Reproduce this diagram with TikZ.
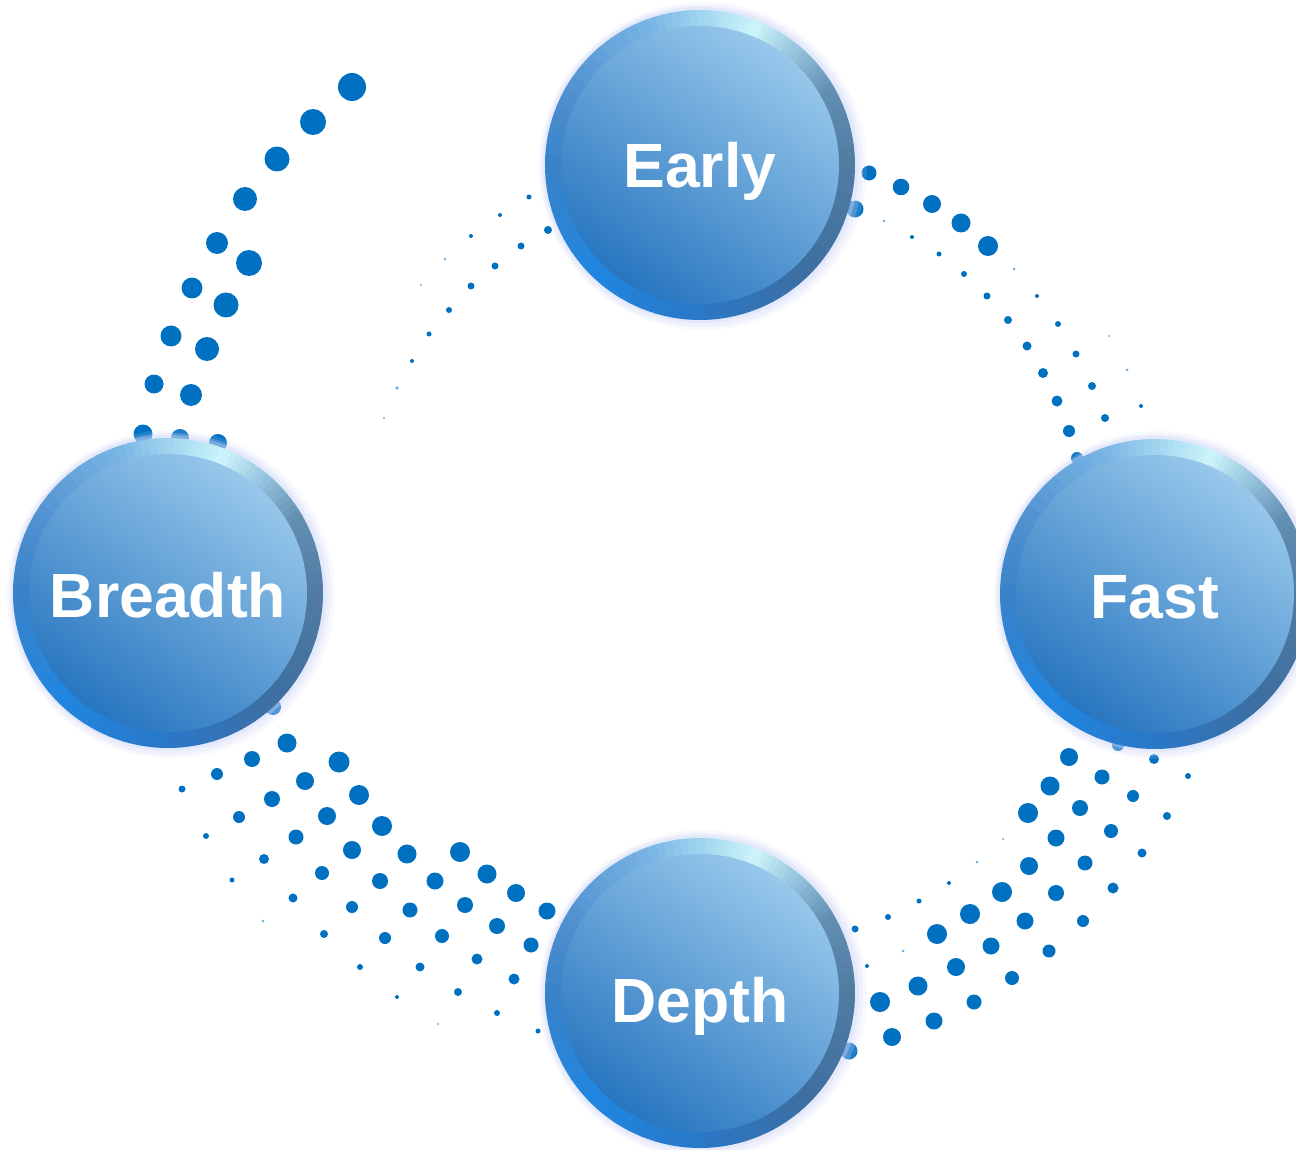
\documentclass[tikz,border=0pt]{standalone}
\usepackage{fontspec}
\setmainfont{Liberation Sans}
\definecolor{dotc}{RGB}{0,112,192}
\definecolor{glowc}{RGB}{212,218,250}
\definecolor{rL}{RGB}{58,130,200}
\definecolor{rBL}{RGB}{32,134,224}
\definecolor{rB}{RGB}{42,120,200}
\definecolor{rBR}{RGB}{62,110,160}
\definecolor{rR}{RGB}{80,124,162}
\definecolor{rRU}{RGB}{98,142,178}
\definecolor{rM}{RGB}{150,195,222}
\definecolor{rTR}{RGB}{205,245,250}
\definecolor{rTU}{RGB}{170,220,242}
\definecolor{rT}{RGB}{120,180,228}
\definecolor{rTL}{RGB}{80,145,208}
\definecolor{dTop}{RGB}{152,200,235}
\definecolor{dBot}{RGB}{40,118,192}
\tikzset{
  bubble/.style={circle, minimum size=310pt, inner sep=0pt},
  lbl/.style={text=white, font=\fontsize{62.5}{70}\selectfont\bfseries,
    text height=46pt, text depth=0pt, inner sep=0pt, anchor=center},
  dot/.style={fill=dotc},
  faint/.style={fill=dotc, opacity=0.55}
}
\newcommand\Bubble[5]{%
  \begin{scope}[shift={(#2,#3)}]
    \fill[glowc, opacity=0.15] (3,1) circle (164pt);
    \fill[glowc, opacity=0.25] (2,1) circle (161pt);
    \fill[glowc, opacity=0.35] (1,0) circle (158pt);
    \foreach \sa/\ea/\ca/\cb in {-180/-135/rL/rBL, -135/-90/rBL/rB, -90/-45/rB/rBR,
        -45/0/rBR/rR, 0/30/rR/rRU, 30/50/rRU/rM, 50/68/rM/rTR, 68/85/rTR/rTU,
        85/110/rTU/rT, 110/150/rT/rTL, 150/180/rTL/rL}{
      \pgfmathsetmacro\stp{(\ea-\sa)/8}
      \foreach \k in {0,...,7}{
        \pgfmathsetmacro\aa{\sa+\k*\stp}
        \pgfmathsetmacro\pc{100-\k*12.5-6.25}
        \fill[fill={\ca!\pc!\cb}] (0,0) -- (\aa:155pt)
          arc[start angle=\aa, delta angle=\stp+0.4, radius=155pt] -- cycle;
      }
    }
    \shade[top color=dTop, bottom color=dBot, shading angle=-35] (0,0) circle (139pt);
  \end{scope}
  \node[bubble] (#1) at (#2,#3) {};
  \node[lbl] (#1-label) at (#2,#3+#5) {#4};
}
\begin{document}
\begin{tikzpicture}[x=1pt, y=-1pt]
\useasboundingbox (0,0) rectangle (1296,1150);
\clip (0,0) rectangle (1296,1150);
\fill[white] (0,0) rectangle (1296,1150);

% upper-left large dots
\foreach \x/\y/\r in {352/87/14, 313/122/13, 277/159/12.5, 245/199/12, 217/243/11,
  249/263/13, 192/288/10.5, 226/305/12.5, 171/336/10.5, 207/349/12, 154/384/9.5,
  191/395/11, 143/434/9.5, 180/438/9, 218/443/9}
  \fill[dot] (\x,\y) circle[radius=\r*1pt];

% upper-left small dots
\foreach \x/\y/\r in {529/197/2.5, 500/215/2, 471/236/2, 548/230/4, 521/246/3.5,
  495/266/3.5, 471/286/3.5, 449/310/3, 429/334/2.5, 412/361/2}
  \fill[dot] (\x,\y) circle[radius=\r*1pt];
\foreach \x/\y/\r in {445/259/1.3, 421/285/1.2, 397/388/1.8, 384/418/1.2}
  \fill[faint] (\x,\y) circle[radius=\r*1pt];

% upper-right dots
\foreach \x/\y/\r in {869/173/7.5, 901/187/8.3, 932/204/9, 961/223/9.5, 988/246/10,
  855/209/8.5, 912/237/2, 939/254/2.5, 964/274/3, 987/296/3.5, 1008/320/4,
  1027/346/4.5, 1043/373/5, 1057/401/5.5, 1069/431/6, 1077/458/6, 1037/296/2,
  1058/324/3, 1076/354/3.5, 1092/386/4, 1105/418/4, 1141/406/2}
  \fill[dot] (\x,\y) circle[radius=\r*1pt];
\foreach \x/\y/\r in {884/221/1.5, 1014/269/1.5, 1109/336/1.2, 1127/370/1.5}
  \fill[faint] (\x,\y) circle[radius=\r*1pt];

% lower-right dots
\foreach \x/\y/\r in {1069/757/9, 1050/786/9.5, 1028/813/10, 1002/892/10, 970/914/10,
  937/934/10, 1029/866/9, 1056/838/8.5, 1080/808/8, 1102/777/7.5, 1154/759/5,
  1188/776/3, 1133/796/6, 1167/816/4, 1111/831/7, 1142/853/4.5, 1085/863/7.5,
  1113/888/5.5, 1056/893/8, 1083/921/6, 1025/921/8.5, 1049/951/6.5, 991/946/8.5,
  1012/978/7, 956/967/9, 974/1002/7.5, 918/986/9.5, 934/1021/8.5, 880/1002/10,
  892/1037/9, 849/1051/8.5, 855/929/3.5, 888/917/3, 919/901/2.5, 949/883/2,
  867/966/2, 1118/745/6}
  \fill[dot] (\x,\y) circle[radius=\r*1pt];
\foreach \x/\y/\r in {977/862/1.5, 1003/839/1.2, 903/951/1.5}
  \fill[faint] (\x,\y) circle[radius=\r*1pt];

% lower-left dots
\foreach \x/\y/\r in {287/743/9.5, 252/759/8, 217/774/6, 182/789/3.5, 339/762/10.5,
  305/781/9, 272/799/8, 239/817/6, 206/836/3, 359/795/10, 327/816/9, 296/837/7.5,
  264/859/5, 232/880/2.5, 382/826/10, 352/850/9, 322/873/7, 293/898/4.5,
  407/854/9.5, 380/881/8, 352/907/6, 324/934/4, 360/967/3, 397/997/2,
  460/852/10, 435/881/8.5, 410/910/7.5, 385/938/6, 420/967/4.5, 458/992/4,
  497/1013/3, 538/1031/2.5, 487/874/9.5, 465/905/8, 442/936/7, 477/959/5.5,
  514/979/5.5, 516/893/9, 497/926/8, 531/945/7.5, 547/911/8.5, 273/707/8}
  \fill[dot] (\x,\y) circle[radius=\r*1pt];
\foreach \x/\y/\r in {263/921/1.5, 438/1024/1.2}
  \fill[faint] (\x,\y) circle[radius=\r*1pt];

% bubbles
\Bubble{early}{700}{165}{Early}{0}
\Bubble{breadth}{168}{593}{Breadth}{1}
\Bubble{fast}{1155}{594}{Fast}{1}
\Bubble{depth}{700}{993}{Depth}{6}
\end{tikzpicture}
\end{document}
